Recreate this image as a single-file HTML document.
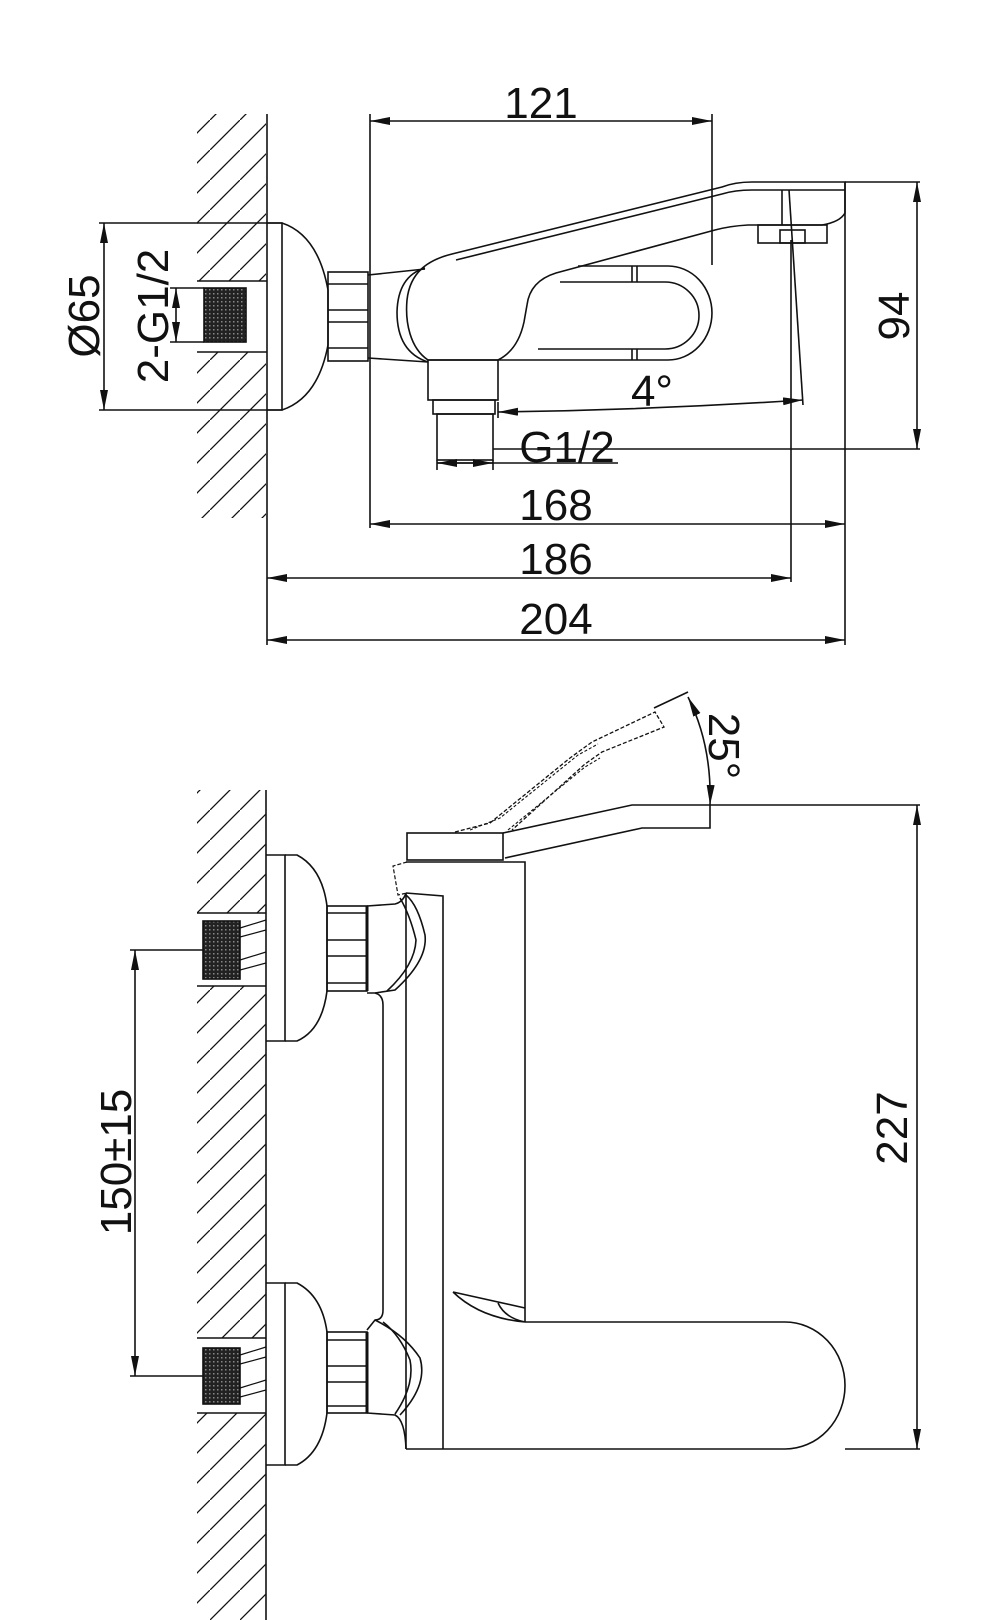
<!DOCTYPE html>
<html><head><meta charset="utf-8"><style>
html,body{margin:0;padding:0;background:#fff;}
svg{display:block}
text{font-family:"Liberation Sans",sans-serif;fill:#111;}
</style></head><body>
<svg width="1000" height="1620" viewBox="0 0 1000 1620" xmlns="http://www.w3.org/2000/svg">
<defs>
<marker id="a" viewBox="0 0 20 8" refX="20" refY="4" markerWidth="20" markerHeight="8" orient="auto-start-reverse" markerUnits="userSpaceOnUse"><path d="M0,0 L20,4 L0,8 z" fill="#111"/></marker>
<clipPath id="h1"><path d="M197,114 H266 V281 H197 Z M197,352 H266 V518 H197 Z"/></clipPath>
<clipPath id="h2"><path d="M197,790 H266 V913 H197 Z M197,986 H266 V1338 H197 Z M197,1413 H266 V1620 H197 Z"/></clipPath>
<pattern id="hp" width="30" height="30" patternUnits="userSpaceOnUse"><path d="M-5,35 L35,-5" stroke="#111" stroke-width="1.3"/></pattern>
<pattern id="th" width="4" height="4" patternUnits="userSpaceOnUse"><rect width="4" height="4" fill="#222"/><rect x="1" y="1" width="1.5" height="1.5" fill="#888"/></pattern>
</defs>
<g fill="none" stroke="#111" stroke-width="1.6">
<!-- hatching -->
<rect x="197" y="114" width="69" height="404" fill="url(#hp)" stroke="none" clip-path="url(#h1)"/>
<rect x="197" y="790" width="69" height="830" fill="url(#hp)" stroke="none" clip-path="url(#h2)"/>

<!-- ===== TOP VIEW ===== -->
<line x1="267" y1="114" x2="267" y2="645"/>
<!-- pipe -->
<line x1="197" y1="281" x2="267" y2="281"/><line x1="197" y1="352" x2="267" y2="352"/>
<rect x="204" y="288" width="42" height="54" fill="url(#th)" stroke="#111"/>
<!-- flange -->
<path d="M267,223 H282 V410 H267"/>
<path d="M282,223 Q318,235 328,290 L328,345 Q318,398 282,410"/>
<!-- nut -->
<rect x="328" y="272" width="40" height="89"/>
<line x1="328" y1="284" x2="368" y2="284"/><line x1="328" y1="310" x2="368" y2="310"/><line x1="328" y1="322" x2="368" y2="322"/><line x1="328" y1="348" x2="368" y2="348"/>
<!-- connector -->
<line x1="368" y1="275" x2="425" y2="269"/><line x1="368" y1="358" x2="428" y2="362"/>
<!-- rim -->
<path d="M428,362 Q397,352 397,312 Q398,276 425,268"/>
<!-- body + spout -->
<path d="M428,360 C410,348 405,322 407,300 C410,272 428,260 452,254 L722,187 Q735,182 752,182 L845,182 L845,213 Q840,222 822,225 L748,225 Q730,226 715,230 L556,273 Q530,281 527,305 L524,322 Q518,350 498,360 Z"/>
<path d="M456,260 L722,194 Q735,190 752,190 L845,190"/>
<!-- loop -->
<path d="M498,360 L668,360 A44,47 0 0 0 668,266 L578,266"/>
<path d="M538,349 L665,349 A34,33.5 0 0 0 665,282 L560,282"/>
<line x1="632" y1="266" x2="632" y2="282"/><line x1="637" y1="266" x2="637" y2="282"/>
<line x1="632" y1="349" x2="632" y2="360"/><line x1="637" y1="349" x2="637" y2="360"/>
<!-- aerator -->
<rect x="758" y="225" width="69" height="18"/><rect x="780" y="230" width="25" height="13"/>
<line x1="782" y1="190" x2="782" y2="225"/>
<!-- outlet -->
<rect x="428" y="360" width="70" height="40"/>
<rect x="433" y="400" width="62" height="14"/>
<rect x="437" y="414" width="56" height="46"/>
<!-- dims top -->
<line x1="370" y1="114" x2="370" y2="528"/>
<line x1="712" y1="114" x2="712" y2="265"/>
<line x1="370" y1="121" x2="712" y2="121" marker-start="url(#a)" marker-end="url(#a)"/>
<line x1="845" y1="182" x2="920" y2="182"/>
<line x1="493" y1="449" x2="920" y2="449"/>
<line x1="917" y1="182" x2="917" y2="449" marker-start="url(#a)" marker-end="url(#a)"/>
<line x1="99" y1="223" x2="282" y2="223"/><line x1="99" y1="410" x2="282" y2="410"/>
<line x1="104" y1="223" x2="104" y2="410" marker-start="url(#a)" marker-end="url(#a)"/>
<line x1="170" y1="288" x2="204" y2="288"/><line x1="170" y1="342" x2="204" y2="342"/>
<line x1="176" y1="288" x2="176" y2="342" marker-start="url(#a)" marker-end="url(#a)"/>
<line x1="789" y1="190" x2="803" y2="405"/>
<line x1="791" y1="240" x2="791" y2="582"/>
<path d="M498,412 Q650,410 803,400" marker-start="url(#a)" marker-end="url(#a)"/>
<line x1="498" y1="402" x2="498" y2="418"/>
<line x1="437" y1="463" x2="618" y2="463"/>
<line x1="437" y1="463" x2="493" y2="463" marker-start="url(#a)" marker-end="url(#a)"/>
<line x1="437" y1="460" x2="437" y2="470"/><line x1="493" y1="460" x2="493" y2="470"/>
<line x1="845" y1="182" x2="845" y2="645"/>
<line x1="370" y1="524" x2="845" y2="524" marker-start="url(#a)" marker-end="url(#a)"/>
<line x1="267" y1="578" x2="791" y2="578" marker-start="url(#a)" marker-end="url(#a)"/>
<line x1="267" y1="640" x2="845" y2="640" marker-start="url(#a)" marker-end="url(#a)"/>

<!-- ===== BOTTOM VIEW ===== -->
<line x1="266" y1="790" x2="266" y2="1620"/>
<!-- upper connection -->
<line x1="197" y1="913" x2="266" y2="913"/><line x1="197" y1="986" x2="266" y2="986"/>
<rect x="203" y="921" width="37" height="58" fill="url(#th)" stroke="#111"/>
<path d="M240,928 L266,920 M240,937 L266,930 M240,960 L266,952 M240,970 L266,963" stroke-width="1.2"/>
<path d="M266,855 H285 V1041 H266"/>
<path d="M285,855 L297,855 Q322,868 327,906 L327,991 Q322,1030 297,1041 L285,1041"/>
<rect x="327" y="906" width="40" height="85"/>
<line x1="327" y1="913" x2="367" y2="913"/><line x1="327" y1="940" x2="367" y2="940"/><line x1="327" y1="956" x2="367" y2="956"/><line x1="327" y1="983" x2="367" y2="983"/>
<line x1="367" y1="906" x2="367" y2="991" stroke-width="3"/>
<!-- lower connection -->
<line x1="197" y1="1338" x2="266" y2="1338"/><line x1="197" y1="1413" x2="266" y2="1413"/>
<rect x="203" y="1348" width="37" height="56" fill="url(#th)" stroke="#111"/>
<path d="M240,1355 L266,1347 M240,1364 L266,1357 M240,1388 L266,1380 M240,1397 L266,1390" stroke-width="1.2"/>
<path d="M266,1283 H285 V1465 H266"/>
<path d="M285,1283 L297,1283 Q322,1296 327,1332 L327,1413 Q322,1452 297,1465 L285,1465"/>
<rect x="327" y="1332" width="40" height="81"/>
<line x1="327" y1="1340" x2="367" y2="1340"/><line x1="327" y1="1366" x2="367" y2="1366"/><line x1="327" y1="1382" x2="367" y2="1382"/><line x1="327" y1="1406" x2="367" y2="1406"/>
<line x1="367" y1="1332" x2="367" y2="1413" stroke-width="3"/>
<!-- column between -->
<path d="M367,993 L375,993 Q383,995 383,1005 L383,1310 Q383,1320 375,1320 L367,1330"/>
<path d="M367,906 L395,904 Q403,902 406,893"/>
<path d="M406,895 Q418,905 425,935 Q428,960 395,990 L375,993"/>
<path d="M400,898 Q410,915 416,940 Q415,965 387,991"/>
<path d="M367,1413 L395,1415 Q405,1420 406,1449"/>
<path d="M375,1320 Q405,1335 420,1358 Q428,1385 400,1415"/>
<path d="M383,1322 Q400,1335 410,1360 Q415,1385 395,1414"/>
<!-- main body -->
<path d="M406,893 V1449"/>
<path d="M406,862 H525 V1322"/>
<path d="M406,893 L443,896 V1449"/>
<path d="M525,1322 L785,1322 A60,63.5 0 0 1 785,1449 L406,1449"/>
<path d="M453,1292 L525,1308 M453,1292 Q480,1318 525,1322 M498,1303 Q505,1318 525,1322"/>
<!-- lever -->
<rect x="407" y="833" width="96" height="27"/>
<path d="M503,833 L632,805 L710,805 L710,828 L642,828 L505,858"/>
<path d="M455,832 L490,823 L570,758 L592,742 L655,712 L664,727 L602,752 L585,764 L512,830" stroke-dasharray="4,2" stroke-width="1.3"/>
<path d="M470,830 L500,818 L578,755 L598,744 M508,830 L585,767 L600,758" stroke-dasharray="3,2" stroke-width="1.1"/>
<path d="M407,862 L393,866 L398,895 L407,893" stroke-dasharray="4,2" stroke-width="1.2"/>
<!-- dims bottom -->
<line x1="654" y1="708" x2="688" y2="692"/>
<path d="M688,697 Q712,745 710,805" marker-start="url(#a)" marker-end="url(#a)"/>
<line x1="710" y1="805" x2="920" y2="805"/>
<line x1="845" y1="1449" x2="920" y2="1449"/>
<line x1="917" y1="805" x2="917" y2="1449" marker-start="url(#a)" marker-end="url(#a)"/>
<line x1="130" y1="950" x2="203" y2="950"/><line x1="130" y1="1376" x2="203" y2="1376"/>
<line x1="135" y1="950" x2="135" y2="1376" marker-start="url(#a)" marker-end="url(#a)"/>
</g>
<g font-size="44">
<text x="541" y="118" text-anchor="middle">121</text>
<text x="556" y="520" text-anchor="middle">168</text>
<text x="556" y="574" text-anchor="middle">186</text>
<text x="556" y="634" text-anchor="middle">204</text>
<text x="567" y="462" text-anchor="middle">G1/2</text>
<text x="652" y="406" text-anchor="middle">4°</text>
<text transform="translate(909,316) rotate(-90)" text-anchor="middle">94</text>
<text transform="translate(99,316) rotate(-90)" text-anchor="middle">Ø65</text>
<text transform="translate(168,316) rotate(-90)" text-anchor="middle">2-G1/2</text>
<text transform="translate(907,1128) rotate(-90)" text-anchor="middle">227</text>
<text transform="translate(131,1162) rotate(-90)" text-anchor="middle">150±15</text>
<text transform="translate(709,746) rotate(90)" text-anchor="middle">25°</text>
</g>
</svg>
</body></html>
